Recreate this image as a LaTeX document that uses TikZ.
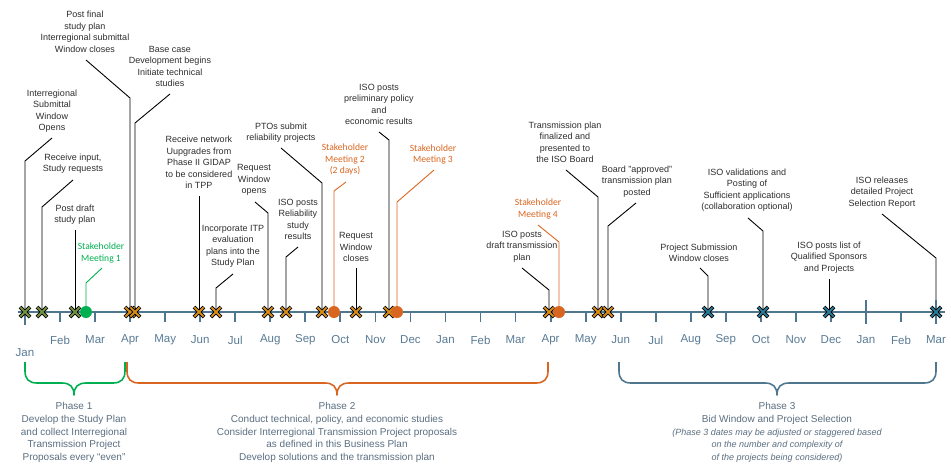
\documentclass[tikz,border=0pt]{standalone}
\usepackage{fontspec}
\setmainfont{Liberation Sans}
\newfontfamily\smfont{Carlito}
\definecolor{axisc}{RGB}{78,118,142}
\definecolor{monthc}{RGB}{88,122,148}
\definecolor{phtext}{RGB}{90,110,128}
\definecolor{smgreen}{RGB}{0,176,80}
\definecolor{smorange}{RGB}{217,102,32}
\definecolor{xolive}{RGB}{118,146,60}
\definecolor{xorange}{RGB}{214,140,22}
\definecolor{xteal}{RGB}{40,122,150}
\definecolor{lbltext}{RGB}{45,45,45}
\tikzset{
 lbl/.style={align=center, inner sep=0pt, text=lbltext, font=\fontsize{9}{11.5}\selectfont},
 smlbl/.style={align=center, inner sep=0pt, text=#1, font=\smfont\fontsize{9.6}{11.5}\selectfont},
 leader/.style={line width=0.9pt, black},
 smleader/.style={line width=0.9pt, #1},
 curlead/.style={leader},
 month/.style={inner sep=0pt, text=monthc, font=\fontsize{11.5}{13}\selectfont},
 phase/.style={align=center, inner sep=0pt, text=phtext, font=\fontsize{10}{12.75}\selectfont},
 brace/.style={line width=1.6pt, line join=round},
 tick/.style={line width=1.8pt, axisc},
 pics/xmark/.style={code={
   \draw[line width=3.6pt, black] (-5,-5)--(5,5) (-5,5)--(5,-5);
   \draw[line width=2.0pt, #1] (-4.6,-4.6)--(4.6,4.6) (-4.6,4.6)--(4.6,-4.6);}},
}
\newcommand\evt[7]{% name, style, label pos, text, leader start, knee, marker x
  \node[#2] (#1) at (#3) {#4};
  \coordinate (#1s) at (#5); \coordinate (#1k) at (#6); \coordinate (#1m) at (#7,312);
  \draw[curlead] (#1s) -- (#1k) -- (#1m);}
\newcommand\mybrace[4]{%
  \draw[brace,#1] (#2,362) -- (#2,371) .. controls (#2,379) and ({#2+4},383) .. ({#2+12},383)
   -- ({#3-12},383) .. controls ({#3-4},383) and (#3,387) .. (#3,395)
   .. controls (#3,387) and ({#3+4},383) .. ({#3+12},383)
   -- ({#4-12},383) .. controls ({#4-4},383) and (#4,379) .. (#4,371) -- (#4,362);}
\begin{document}
\begin{tikzpicture}[x=1pt,y=-1pt]
\useasboundingbox (0,0) rectangle (951,464);
% Phase 1 events
\evt{a1}{lbl}{52,111}{Interregional\\Submittal\\Window\\Opens}{52,138}{25,161}{25}
\evt{a2}{lbl}{73,163.5}{Receive input,\\Study requests}{73,180}{42,207}{42}
\evt{a3}{lbl}{75,214.5}{Post draft\\study plan}{75,230}{75,230}{75}
\tikzset{curlead/.style={smleader=smgreen}}
\evt{sm1}{smlbl=smgreen}{101,253}{Stakeholder\\Meeting 1}{102,268}{86,283}{86}
\tikzset{curlead/.style={leader}}
% Phase 2 events
\evt{b1}{lbl}{85,32}{Post final\\study plan\\Interregional submittal\\Window closes}{86,60}{130,98}{130}
\evt{b2}{lbl}{170,66.5}{Base case\\Development begins\\Initiate technical\\studies}{170,94}{135,123}{135}
\evt{b3}{lbl}{199,162.5}{Receive network\\Uupgrades from\\Phase II GIDAP\\to be considered\\in TPP}{199,196}{199,196}{199}
\evt{b4}{lbl}{233,246.5}{Incorporate ITP\\evaluation\\plans into the\\Study Plan}{233,274}{216,288}{216}
\evt{b5}{lbl}{254,180}{Request\\Window\\opens}{255,202}{268,213}{268}
\evt{b6}{lbl}{298,219.5}{ISO posts\\Reliability\\study\\results}{298,247}{286,257}{286}
\evt{b7}{lbl}{281,132.5}{PTOs submit\\reliability projects}{281,148}{322,183}{322}
\evt{b8}{lbl}{356,247}{Request\\Window\\closes}{356,268}{356,268}{356}
\evt{b9}{lbl}{379,104.5}{ISO posts\\preliminary policy\\and\\economic results}{379,132}{389,140}{389}
\evt{b10}{lbl}{522,246.5}{ISO posts\\draft transmission\\plan}{522,268}{549,290}{549}
\evt{b11}{lbl}{565,142.5}{Transmission plan\\finalized and\\presented to\\the ISO Board}{566,170}{598,197}{598}
\evt{b12}{lbl}{637,181.5}{Board "approved"\\transmission plan\\posted}{636,203}{608,226}{608}
\tikzset{curlead/.style={smleader=smorange}}
\evt{sm2}{smlbl=smorange}{345,159.5}{Stakeholder\\Meeting 2\\(2 days)}{346,182}{334,191}{334}
\evt{sm3}{smlbl=smorange}{433,154.5}{Stakeholder\\Meeting 3}{434,170}{397,202}{397}
\evt{sm4}{smlbl=smorange}{538,209}{Stakeholder\\Meeting 4}{538,225}{559,242}{559}
\tikzset{curlead/.style={leader}}
% Phase 3 events
\evt{c1}{lbl}{699,253}{Project Submission\\Window closes}{700,268}{708,276}{708}
\evt{c2}{lbl}{747,190}{ISO validations and\\Posting of\\Sufficient applications\\(collaboration optional)}{748,218}{763,231}{763}
\evt{c3}{lbl}{829,257.5}{ISO posts list of\\Qualified Sponsors\\and Projects}{829,279}{829,279}{829}
\evt{c4}{lbl}{882,192.5}{ISO releases\\detailed Project\\Selection Report}{882,214}{936,258}{936}
% axis
\coordinate (axL) at (18,312); \coordinate (axR) at (945,312);
\draw[line width=1.8pt, axisc] (axL) -- (axR);
\draw[tick] (25,312) -- (25,325);
\foreach \i in {1,...,23,25} \draw[tick] ({25+35.04*\i},312) -- ++(0,10);
\foreach \i in {24,26} \draw[tick] ({25+35.04*\i},300) -- ++(0,24);
\node[month] (mo0) at (25,353) {Jan};
\foreach \m [count=\i from 1] in {Feb,Mar,Apr,May,Jun,Jul,Aug,Sep,Oct,Nov,Dec,Jan,Feb,Mar,Apr,May,Jun,Jul,Aug,Sep,Oct,Nov,Dec,Jan,Feb,Mar}
  \node[month] (mo\i) at ({25+35.04*\i},340) {\m};
% markers
\foreach \n in {a1,a2,a3} \pic at (\n m) {xmark=xolive};
\foreach \n in {b1,b2,b3,b4,b5,b6,b7,b8,b9,b10,b11,b12} \pic at (\n m) {xmark=xorange};
\foreach \n in {c1,c2,c3,c4} \pic at (\n m) {xmark=xteal};
\fill[smgreen] (sm1m) circle[radius=6];
\foreach \n in {sm2,sm3,sm4} \fill[smorange] (\n m) circle[radius=6];
% braces
\mybrace{smgreen}{25}{74}{125}
\mybrace{smorange}{127}{337}{548}
\mybrace{axisc}{619}{777}{936}
% phase texts
\node[phase] (p1) at (74,432.5) {Phase 1\\Develop the Study Plan\\and collect Interregional\\Transmission Project\\Proposals every “even”};
\node[phase] (p2) at (337,432.5) {Phase 2\\Conduct technical, policy, and economic studies\\Consider Interregional Transmission Project proposals\\as defined in this Business Plan\\Develop solutions and the transmission plan};
\node[phase] (p3) at (777,432.5) {Phase 3\\Bid Window and Project Selection\\{\itshape\fontsize{9}{12.75}\selectfont (Phase 3 dates may be adjusted or staggered based}\\{\itshape\fontsize{9}{12.75}\selectfont on the number and complexity of}\\{\itshape\fontsize{9}{12.75}\selectfont of the projects being considered)}};
\end{tikzpicture}
\end{document}
